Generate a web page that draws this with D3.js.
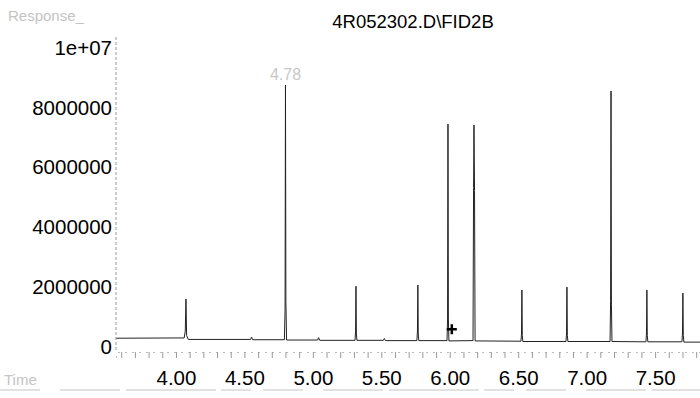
<!DOCTYPE html>
<html>
<head>
<meta charset="utf-8">
<script src="https://cdn.jsdelivr.net/npm/d3@7"></script>
<style>
  body { margin: 0; background: #fff; }
  svg { display: block; font-family: Arial, "Liberation Sans", sans-serif; }
</style>
</head>
<body>
<div id="chart"></div>
<script>
// retention time (min) / response pairs
var traceTime = [3.565, 4.060, 4.068, 4.073, 4.078, 4.090,
  4.545, 4.552, 4.560, 4.792, 4.797, 4.800, 4.803, 4.808,
  5.035, 5.042, 5.050, 5.308, 5.312, 5.315, 5.318, 5.322,
  5.515, 5.522, 5.530, 5.760, 5.764, 5.767, 5.770, 5.774,
  5.980, 5.984, 5.987, 5.990, 5.994, 6.170, 6.174, 6.177, 6.181, 6.185,
  6.520, 6.524, 6.527, 6.530, 6.534, 6.849, 6.853, 6.856, 6.859, 6.863,
  7.171, 7.175, 7.178, 7.181, 7.185, 7.433, 7.437, 7.440, 7.443, 7.447,
  7.696, 7.700, 7.703, 7.706, 7.710, 7.828];
var traceResp = [260000, 270000, 500000, 1570000, 350000, 220000,
  220000, 300000, 210000, 210000, 1200000, 8730000, 1500000, 200000,
  200000, 280000, 190000, 190000, 500000, 2000000, 400000, 190000,
  190000, 250000, 180000, 180000, 500000, 2040000, 400000, 180000,
  180000, 900000, 7420000, 900000, 170000, 180000, 5300000, 7390000, 5200000, 170000,
  160000, 400000, 1870000, 350000, 150000, 150000, 400000, 1970000, 350000, 150000,
  150000, 1500000, 8530000, 1400000, 150000, 140000, 400000, 1870000, 350000, 140000,
  140000, 400000, 1770000, 350000, 130000, 130000];

var yTicks = [0, 2000000, 4000000, 6000000, 8000000, 10000000];
var yTickLabels = ['0', '2000000', '4000000', '6000000', '8000000', '1e+07'];
var xTicks = [4.0, 4.5, 5.0, 5.5, 6.0, 6.5, 7.0, 7.5];
var xTickLabels = ['4.00', '4.50', '5.00', '5.50', '6.00', '6.50', '7.00', '7.50'];
var markerTime = 6.015, markerResp = 560000;

var width = 700, height = 398;

var x = d3.scaleLinear().domain([3.562, 7.828]).range([116, 700]);
var y = d3.scaleLinear().domain([0, 10000000]).range([346, 47]);

var svg = d3.select('#chart').append('svg')
  .attr('width', width)
  .attr('height', height);

// title
svg.append('text')
  .attr('x', 413).attr('y', 28)
  .attr('text-anchor', 'middle')
  .attr('font-size', 18.5)
  .text('4R052302.D\\FID2B');

// faded scan labels
svg.append('text')
  .attr('x', 8).attr('y', 21)
  .attr('font-size', 15).attr('fill', '#c4c4c4')
  .text('Response_');
svg.append('text')
  .attr('x', 4).attr('y', 385)
  .attr('font-size', 15).attr('fill', '#c4c4c4')
  .text('Time');

// y axis
var yAxis = d3.axisLeft(y)
  .tickValues(yTicks)
  .tickFormat(function(d, i) { return yTickLabels[i]; })
  .tickSize(0)
  .tickPadding(4);
var gy = svg.append('g').attr('transform', 'translate(116,0)').call(yAxis);
gy.select('.domain').attr('stroke', '#999').attr('stroke-dasharray', '3,2')
  .attr('d', 'M0,37V352');
gy.selectAll('text').attr('font-size', 20.5).attr('font-family', 'Arial, "Liberation Sans", sans-serif')
  .attr('fill', '#000').attr('dy', '0.36em');

// x axis: minor ticks row
var minor = d3.range(36, 79).map(function(d) { return d / 10; });
var xMinor = d3.axisBottom(x).tickValues(minor).tickSize(6).tickFormat('');
var gxm = svg.append('g').attr('transform', 'translate(0,352)').call(xMinor);
gxm.select('.domain').attr('stroke', '#bbb').attr('stroke-dasharray', '2,5');
gxm.selectAll('.tick line').attr('stroke', '#999');

// x axis labels
var xAxis = d3.axisBottom(x).tickValues(xTicks)
  .tickFormat(function(d, i) { return xTickLabels[i]; })
  .tickSize(0).tickPadding(0);
var gx = svg.append('g').attr('transform', 'translate(0,369)').call(xAxis);
gx.select('.domain').remove();
gx.selectAll('text').attr('font-size', 20.5).attr('font-family', 'Arial, "Liberation Sans", sans-serif')
  .attr('fill', '#000').attr('dy', '0.78em');

// bottom scan line
svg.append('line')
  .attr('x1', 0).attr('x2', 700).attr('y1', 390).attr('y2', 390)
  .attr('stroke', '#c4c4c4').attr('stroke-dasharray', '40,20,60,6,90,5,30,12');

// chromatogram trace
var pts = traceTime.map(function(t, i) { return [t, traceResp[i]]; });
var line = d3.line()
  .x(function(d) { return x(d[0]); })
  .y(function(d) { return y(d[1]); });
svg.append('path')
  .datum(pts)
  .attr('d', line)
  .attr('fill', 'none')
  .attr('stroke', '#222')
  .attr('stroke-width', 1);

// peak label
svg.append('text')
  .attr('x', x(4.80)).attr('y', 80)
  .attr('text-anchor', 'middle')
  .attr('font-size', 16).attr('fill', '#c8c8c8')
  .text('4.78');

// marker
var mx = x(markerTime), my = y(markerResp);
svg.append('path')
  .attr('d', 'M' + (mx - 5) + ',' + my + 'H' + (mx + 5) + 'M' + mx + ',' + (my - 5) + 'V' + (my + 5))
  .attr('stroke', '#000').attr('stroke-width', 2.5);
</script>
</body>
</html>
